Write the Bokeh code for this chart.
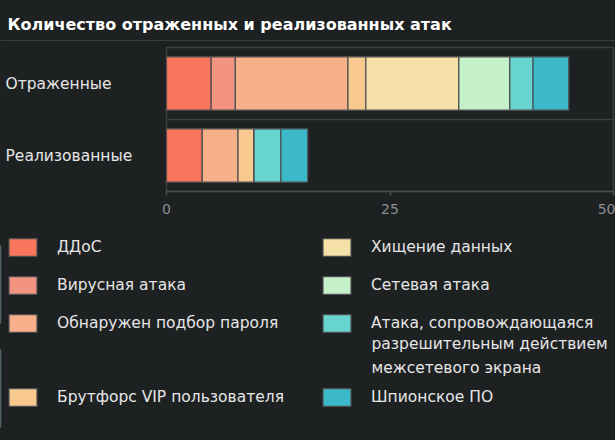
from bokeh.plotting import figure
from bokeh.layouts import column, row
from bokeh.models import (ColumnDataSource, Range1d, FactorRange, FixedTicker, Legend, LegendItem,
                          Label, Span)
from bokeh.core.properties import value
from bokeh.embed import file_html
from bokeh.resources import INLINE

# ---- data ----
categories = ["Отраженные", "Реализованные"]
attack_keys = ["ddos", "virus", "password", "brute", "theft", "network", "firewall", "spy"]
attack_labels = [
    "ДДоС",
    "Вирусная атака",
    "Обнаружен подбор пароля",
    "Брутфорс VIP пользователя",
    "Хищение данных",
    "Сетевая атака",
    "Атака, сопровождающаяся\nразрешительным действием\nмежсетевого экрана",
    "Шпионское ПО",
]
reflected = [5, 2.7, 12.6, 2, 10.4, 5.7, 2.6, 4]
realized = [4, 0, 4, 1.8, 0, 0, 3, 3]
colors = ["#f8765c", "#f39483", "#f7b08a", "#f9ca8f", "#f5e0a7", "#c4f0ca", "#67d4cf", "#3cb9c8"]
x_ticks = [0, 25, 50]
title_text = "Количество отраженных и реализованных атак"

BG = "#1e2122"
FONT = "DejaVu Sans"
TXT = "#e6e6e6"
BAR_LINE = "#4d4f50"

data = {"category": categories}
for k, a, b in zip(attack_keys, reflected, realized):
    data[k] = [a, b]
source = ColumnDataSource(data)
factors = categories[::-1]
y_range = FactorRange(factors=factors)


def base_fig(**kw):
    return figure(output_backend="svg", toolbar_location=None,
                  background_fill_color=BG, border_fill_color=BG, **kw)


# ---- header: title + separator ----
header = base_fig(width=615, height=41, x_range=Range1d(0, 615), y_range=Range1d(0, 41),
                  x_axis_location=None, y_axis_location=None,
                  min_border_left=0, min_border_right=0, min_border_top=0, min_border_bottom=0)
header.outline_line_color = None
header.grid.visible = False
header.add_layout(Label(x=7, y=17, text=title_text, text_font=FONT, text_font_size="16px",
                        text_font_style="bold", text_color="#ffffff", text_baseline="alphabetic"))
header.add_layout(Span(location=0.8, dimension="width", line_color="#3a3d3f", line_width=1.5))

# ---- category labels ----
labels_fig = base_fig(width=150, height=191, x_range=Range1d(0, 150), y_range=y_range,
                      x_axis_location=None, y_axis_location=None,
                      min_border_left=0, min_border_right=0, min_border_top=6, min_border_bottom=41)
labels_fig.outline_line_color = None
labels_fig.grid.visible = False
labels_fig.text(x=5, y="category", text="category", source=source, text_font=value(FONT),
                text_font_size="15.5px", text_color=TXT, text_baseline="middle", text_align="left")

# ---- chart ----
p = base_fig(width=465, height=191, x_range=Range1d(0, 50), y_range=y_range,
             y_axis_location=None,
             min_border_left=16, min_border_right=2, min_border_top=6, min_border_bottom=41)
p.outline_line_color = "#3c4042"
p.outline_line_width = 1.5
p.grid.visible = False

p.hbar_stack(attack_keys, y="category", height=0.74, color=colors, source=source,
             line_color=BAR_LINE, line_width=1.2)

p.add_layout(Span(location=1, dimension="width", line_color="#3c4042", line_width=1.5))

xa = p.xaxis[0]
xa.ticker = FixedTicker(ticks=x_ticks)
xa.axis_line_color = "#4a4e50"
xa.axis_line_width = 1.5
xa.major_tick_line_color = "#4a4e50"
xa.major_tick_line_width = 1.5
xa.major_tick_in = 0
xa.major_tick_out = 4
xa.minor_tick_line_color = None
xa.major_label_text_color = "#8a8d8f"
xa.major_label_text_font = FONT
xa.major_label_text_font_size = "14px"
xa.major_label_standoff = 8

# ---- legend area: same stacked bars, drawn out of view, feed the legends ----
LEG_H = 208
leg_fig = base_fig(width=615, height=LEG_H, x_range=Range1d(1000, 1001), y_range=FactorRange(factors=factors),
                   x_axis_location=None, y_axis_location=None,
                   min_border_left=0, min_border_right=0, min_border_top=0, min_border_bottom=0)
leg_fig.outline_line_color = None
leg_fig.grid.visible = False
leg_renderers = leg_fig.hbar_stack(attack_keys, y="category", height=0.74, color=colors, source=source,
                                   line_color=BAR_LINE, line_width=1.2)

GW, GH, STAND, LW, SP = 35, 22, 17, 246, 16
leg_style = dict(orientation="vertical", glyph_width=GW, glyph_height=GH, label_standoff=STAND,
                 label_width=LW, spacing=SP, padding=0, margin=0,
                 label_text_font=FONT, label_text_font_size="15.5px", label_text_color=TXT,
                 background_fill_alpha=0, border_line_alpha=0)

# multi-line label: first line goes next to the swatch, the rest continues below it
firewall_lines = attack_labels[6].split("\n")
upper = [0, 1, 2, 4, 5, 6]   # rows 1-3 of both columns
lower = [3, 7]               # row 4
upper_items = [LegendItem(label=(firewall_lines[0] if i == 6 else attack_labels[i]),
                          renderers=[leg_renderers[i]]) for i in upper]
lower_items = [LegendItem(label=attack_labels[i], renderers=[leg_renderers[i]]) for i in lower]

upper_h = 3 * GH + 2 * SP
leg_fig.add_layout(Legend(items=upper_items, location=(5, LEG_H - 4 - upper_h), nrows=3, **leg_style), "center")
leg_fig.add_layout(Legend(items=lower_items, location=(5, LEG_H - 176), nrows=1, **leg_style), "center")

cont_top = 123.4  # px from the top of the legend area
leg_fig.add_layout(Label(x=5 + GW + STAND + LW + SP + GW + STAND, x_units="screen",
                         y=len(factors) * (1 - cont_top / LEG_H),
                         text="\n".join(firewall_lines[1:]),
                         text_font=FONT, text_font_size="15.5px", text_color=TXT,
                         text_baseline="middle", text_align="left", text_line_height=1.3))

layout = column(header, row(labels_fig, p, spacing=0, styles={"background-color": BG}),
                leg_fig, spacing=0,
                styles={"position": "absolute", "left": "0px", "top": "0px", "margin": "0px",
                        "background-color": BG})

open("out.html", "w").write(file_html(layout, INLINE))
